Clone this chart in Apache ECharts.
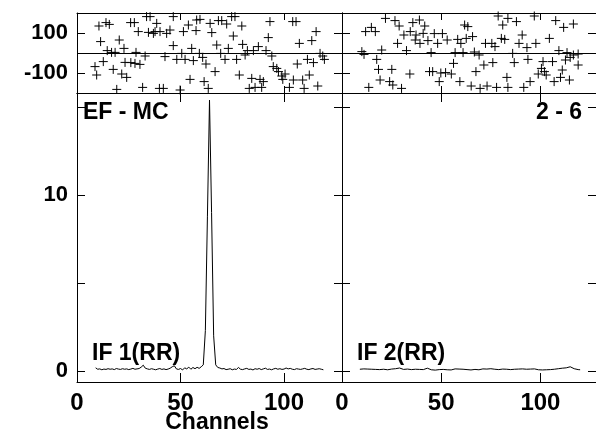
<!DOCTYPE html>
<html>
<head>
<meta charset="utf-8">
<script src="https://cdn.jsdelivr.net/npm/echarts@6/dist/echarts.min.js"></script>
<style>
html,body{margin:0;padding:0;background:#fff;}
#chart{width:596px;height:435px;}
</style>
</head>
<body>
<div id="chart"></div>
<script>
// ---------- data ----------
const channelTicks = [0, 50, 100];
const phaseTicks = [-100, 0, 100];
const phaseLabels = [-100, 100];
const ampTicks = [0, 5, 10, 15];
const ampLabels = [0, 10];

const panelTitles = ['EF - MC', '2 - 6'];
const spectrumNames = ['IF 1(RR)', 'IF 2(RR)'];
const xAxisTitle = 'Channels';

// phase points [channel, phase(deg)]
const leftPhase = [
 [8.7,-68],[9.5,-110],[10.6,135],[11.4,57],[12.7,-43],[14,152],[14.6,12],[15.6,143],[16.7,3],[17.5,-82],
 [18.4,3],[19.2,-182],[20.4,65],[21.6,-105],[22.7,23],[23.2,-47],[24,-122],[25.9,152],[26,-48],[27.7,152],
 [28,-52],[28.5,3],[29.6,107],[30.4,-57],[31.7,-172],[32.9,-15],[33.6,182],[34.5,103],[35.3,182],[36.9,98],
 [37.7,107],[38.5,148],[39.8,-177],[40.1,107],[41.7,-177],[42.5,-18],[43.3,98],[44.9,115],[46.5,182],[46.5,37],
 [48.2,-32],[49.8,-185],[50.6,-2],[51.4,107],[52.2,-32],[53.8,140],[54.6,-132],[55.4,23],[56.2,-38],[57.5,112],
 [57.8,165],[59.1,-2],[59.4,168],[60.7,-22],[61.4,-143],[62.3,-55],[63.4,-177],[64.3,148],[65.1,102],[66.7,-93],
 [67.5,40],[68.3,162],[69.4,-2],[69.9,162],[71.5,-32],[72.3,145],[73.1,23],[74.7,182],[75.5,85],[76.3,182],
 [77.1,-32],[78.4,-110],[79.6,135],[80,43],[81.2,-10],[82.3,12],[83.2,-177],[84.4,-127],[85.2,12],[86,-172],
 [87.6,32],[88.4,-132],[89.2,-172],[90,-143],[91.3,12],[92.4,77],[93.2,157],[94.1,-15],[94.8,-68],[96.5,-77],
 [97.3,-93],[98.9,-115],[99.4,-132],[100.5,-105],[102.6,-172],[104.2,157],[104.5,-135],[105.8,157],[106.4,-55],[107.4,48],
 [109,-135],[109.7,-177],[111.3,-32],[112.2,-110],[113.4,62],[114.2,-48],[115.5,107],[116.3,-165],[117.4,-2],[118.7,-15],
 [119.5,-32]
];
const rightPhase = [
 [10,7],[11.1,-7],[11.9,107],[13.5,-172],[14.8,128],[16.8,107],[17.5,-32],[18.4,-82],[19.2,-135],[20,15],
 [21.9,173],[24,-143],[25.1,-82],[25.6,-160],[26.7,162],[28,48],[28.8,135],[30,-177],[31.2,90],[32.5,12],
 [34.2,-105],[34.4,107],[35.7,152],[36.9,65],[37.3,90],[39,165],[39.3,48],[40.9,98],[41.7,135],[43.3,62],
 [44.1,-93],[44.9,2],[45.7,-93],[46.5,97],[48.2,48],[49,-143],[49.8,-100],[50.6,97],[52.2,-98],[53,65],
 [55.1,-105],[56.2,-52],[57,2],[58.3,68],[59.4,-143],[59.9,48],[61,2],[61.8,140],[62.6,73],[63.4,132],
 [65.1,-165],[65.8,82],[66.7,5],[67.5,-93],[69.1,-10],[69.6,-177],[71.5,-60],[72.3,48],[73.1,-165],[75.5,48],
 [76,-48],[77.1,32],[77.9,-172],[78.7,185],[80.3,73],[81,140],[82,68],[83.1,-122],[83.6,173],[83.6,-172],
 [86,-2],[86.8,-48],[87.9,157],[89.2,48],[90.8,90],[91.6,-172],[93.2,27],[93.7,-32],[94.8,-143],[96.9,185],
 [97.7,48],[98.9,-105],[100.5,-77],[101.3,-43],[102,-93],[102.9,-110],[104.5,73],[106.1,-43],[106.9,-143],[107.7,162],
 [109.3,12],[110.1,-122],[111,-85],[111.7,128],[112.6,-35],[113.4,2],[114.6,-135],[115,-22],[116.6,145],[116.6,-10],
 [119,-5],[119,-60]
];

// amplitude spectra (one value per channel, starting at the given channel)
const leftSpecStart = 9;
const leftSpec = [
 0.18,0.10,0.12,0.07,0.11,0.09,0.13,0.10,0.12,0.08,
 0.14,0.11,0.09,0.13,0.10,0.12,0.08,0.11,0.15,0.10,
 0.12,0.14,0.22,0.33,0.16,0.12,0.09,0.13,0.10,0.07,
 0.11,0.14,0.09,0.12,0.08,0.11,0.16,0.24,0.30,0.12,
 0.09,0.14,0.06,0.18,0.12,0.22,0.10,0.20,0.13,0.21,
 0.15,0.24,0.35,2.3,8.8,15.4,9.0,2.0,0.35,0.20,
 0.17,0.12,0.14,0.08,0.10,0.13,0.07,0.11,0.09,0.20,
 0.10,0.08,0.12,0.15,0.09,0.11,0.06,0.13,0.10,0.14,
 0.08,0.12,0.16,0.09,0.11,0.07,0.12,0.15,0.10,0.13,
 0.09,0.11,0.17,0.12,0.15,0.10,0.08,0.13,0.11,0.09,
 0.12,0.15,0.10,0.08,0.12,0.14,0.09,0.11,0.13,0.10,
 0.07
];
const rightSpecStart = 9;
const rightSpec = [
 0.10,0.08,0.12,0.09,0.11,0.07,0.10,0.13,0.09,0.11,
 0.08,0.14,0.10,0.12,0.07,0.15,0.11,0.09,0.13,0.10,
 0.17,0.12,0.09,0.16,0.11,0.13,0.08,0.12,0.10,0.14,
 0.09,0.11,0.08,0.13,0.16,0.10,0.07,0.09,0.05,0.04,
 0.08,0.06,0.09,0.05,0.07,0.10,0.06,0.08,0.12,0.09,
 0.11,0.07,0.10,0.13,0.08,0.11,0.06,0.12,0.09,0.14,
 0.07,0.10,0.12,0.08,0.11,0.09,0.13,0.07,0.10,0.12,
 0.08,0.09,0.11,0.07,0.10,0.12,0.08,0.06,0.10,0.09,
 0.11,0.07,0.12,0.09,0.10,0.08,0.11,0.09,0.12,0.10,
 0.07,0.05,0.06,0.05,0.07,0.06,0.08,0.07,0.10,0.09,
 0.13,0.10,0.16,0.12,0.18,0.14,0.24,0.18,0.13,0.10,
 0.08,0.07
];

// ---------- chart ----------
const FONT = '"Liberation Sans", Arial, Helvetica, sans-serif';
const chart = echarts.init(document.getElementById('chart'), null, {renderer: 'canvas'});

const grids = [
  {left: 77, top: 13, width: 265, height: 80},
  {left: 342, top: 13, width: 265, height: 80},
  {left: 77, top: 93, width: 265, height: 289},
  {left: 342, top: 93, width: 265, height: 289}
];

const lineStyle = {color: '#000', width: 1};

function xAx(g, pos, showLabel) {
  return {
    type: 'value', gridIndex: g, position: pos, min: 0, max: 128,
    axisLine: {show: true, onZero: false, lineStyle: lineStyle},
    axisTick: {show: true, inside: true, length: g < 2 ? 7 : 9, customValues: channelTicks, lineStyle: lineStyle},
    axisLabel: {show: showLabel, customValues: channelTicks, margin: 9, color: '#000',
      fontSize: 24, fontWeight: 'bold', fontFamily: FONT},
    splitLine: {show: false}
  };
}
function yAx(g, pos, showLabel) {
  const top = g < 2;
  return {
    type: 'value', gridIndex: g, position: pos,
    min: top ? -200 : -0.625, max: top ? 200 : 15.8,
    axisLine: {show: true, onZero: false, lineStyle: lineStyle},
    axisTick: {show: true, inside: true, length: 8, customValues: top ? phaseTicks : ampTicks, lineStyle: lineStyle},
    axisLabel: {show: showLabel, customValues: top ? phaseLabels : ampLabels, margin: 9, color: '#000',
      fontSize: 22, fontWeight: 'bold', fontFamily: FONT},
    splitLine: {show: false}
  };
}

const xAxes = [], yAxes = [];
for (let g = 0; g < 4; g++) {
  xAxes.push(xAx(g, 'bottom', g >= 2));
  xAxes.push(xAx(g, 'top', false));
  yAxes.push(yAx(g, 'left', g === 0 || g === 2));
  yAxes.push(yAx(g, 'right', false));
}

const plusSymbol = 'path://M0,4.5L9,4.5M4.5,0L4.5,9';
function phaseSeries(g, data) {
  return {
    type: 'scatter', xAxisIndex: 2 * g, yAxisIndex: 2 * g, data: data,
    symbol: plusSymbol, symbolSize: 9,
    itemStyle: {color: 'none', borderColor: '#000', borderWidth: 1, opacity: 1},
    clip: true,
    markLine: {silent: true, symbol: 'none', label: {show: false},
      lineStyle: {color: '#000', width: 1, type: 'solid'}, data: [{yAxis: 0}], animation: false}
  };
}
function specSeries(g, start, vals) {
  return {
    type: 'line', xAxisIndex: 2 * g, yAxisIndex: 2 * g,
    data: vals.map((v, i) => [start + i, v]),
    showSymbol: false, symbol: 'none', clip: true,
    lineStyle: {color: '#000', width: 1}
  };
}

function txt(x, y, s, align, size) {
  return {type: 'text', x: x, y: y, silent: true,
    style: {text: s, fill: '#000', font: 'bold ' + (size || 22) + 'px ' + FONT,
      textAlign: align || 'left', textVerticalAlign: 'middle'}};
}

chart.setOption({
  animation: false,
  backgroundColor: '#fff',
  grid: grids,
  xAxis: xAxes,
  yAxis: yAxes,
  series: [
    phaseSeries(0, leftPhase),
    phaseSeries(1, rightPhase),
    specSeries(2, leftSpecStart, leftSpec),
    specSeries(3, rightSpecStart, rightSpec)
  ],
  graphic: [
    txt(83, 113, panelTitles[0], 'left', 23),
    txt(582, 113, panelTitles[1], 'right', 23),
    txt(92, 354, spectrumNames[0], 'left', 23),
    txt(357, 354, spectrumNames[1], 'left', 23),
    txt(217, 423, xAxisTitle, 'center', 23)
  ]
});
</script>
</body>
</html>
